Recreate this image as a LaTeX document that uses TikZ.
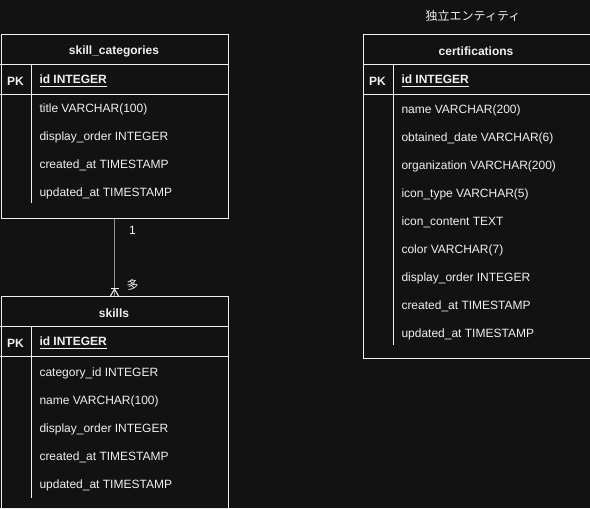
\documentclass[tikz,border=0pt]{standalone}
\usepackage{fontspec}
\setmainfont{Liberation Sans}
\newfontfamily\jpfont{Noto Sans CJK JP}
\begin{document}
\begin{tikzpicture}[x=0.75pt,y=-0.75pt,
  line width=0.75pt,
  tbl/.style={draw=fgc,rectangle,anchor=north west,inner sep=0pt},
  sep/.style={draw=fgc,line width=0.75pt},
  hdr/.style={text=fgc,font=\fontsize{9}{11}\selectfont\bfseries,inner sep=0pt,yshift=-1.1pt},
  row/.style={text=fgc,font=\fontsize{9}{11}\selectfont,anchor=west,inner sep=0pt,yshift=-1.1pt},
  pkrow/.style={text=fgc,font=\fontsize{9}{11}\selectfont\bfseries,anchor=west,inner sep=0pt,yshift=-1.1pt},
  pk/.style={text=fgc,font=\fontsize{9}{11}\selectfont\bfseries,inner sep=0pt,yshift=-1.1pt},
  conn/.style={draw=linec,line width=0.9pt},
  lbl/.style={text=fgc,font=\fontsize{9}{11}\selectfont,inner sep=0pt,yshift=-0.8pt}
]
\definecolor{bgc}{HTML}{121212}
\definecolor{fgc}{HTML}{F0F0F0}
\definecolor{linec}{HTML}{909090}
\useasboundingbox[fill=bgc] (0,0) rectangle (590,508);

% skill_categories
\node[tbl,minimum width=227*0.75pt,minimum height=183.5*0.75pt] (sc) at (0.5,34) {};
\draw[sep] (0.5,64.5) -- (227.5,64.5);
\draw[sep] (0.5,94.5) -- (227.5,94.5);
\draw[sep] (31,64.5) -- (31,203);
\node[hdr] (scT) at (114,49.5) {skill\_categories};
\node[pk] (scPK) at (15.5,79.5) {PK};
\node[pkrow] (scId) at (39,79.5) {\underline{id INTEGER}};
\node[row] (sc1) at (39,107.5) {title VARCHAR(100)};
\node[row] (sc2) at (39,135.5) {display\_order INTEGER};
\node[row] (sc3) at (39,163.5) {created\_at TIMESTAMP};
\node[row] (sc4) at (39,191.5) {updated\_at TIMESTAMP};

% skills
\node[tbl,minimum width=227*0.75pt,minimum height=211.5*0.75pt] (sk) at (0.5,296) {};
\draw[sep] (0.5,326.5) -- (227.5,326.5);
\draw[sep] (0.5,356.5) -- (227.5,356.5);
\draw[sep] (31,326.5) -- (31,498);
\node[hdr] (skT) at (114,311.5) {skills};
\node[pk] (skPK) at (15.5,341.5) {PK};
\node[pkrow] (skId) at (39,341.5) {\underline{id INTEGER}};
\node[row] (sk1) at (39,371.5) {category\_id INTEGER};
\node[row] (sk2) at (39,399.5) {name VARCHAR(100)};
\node[row] (sk3) at (39,427.5) {display\_order INTEGER};
\node[row] (sk4) at (39,455.5) {created\_at TIMESTAMP};
\node[row] (sk5) at (39,483.5) {updated\_at TIMESTAMP};

% certifications
\node[lbl,font=\fontsize{9}{11}\selectfont\jpfont] (indep) at (473,15) {独立エンティティ};
\node[tbl,minimum width=227*0.75pt,minimum height=324*0.75pt] (ce) at (362.5,34) {};
\draw[sep] (362.5,64.5) -- (589.5,64.5);
\draw[sep] (362.5,94.5) -- (589.5,94.5);
\draw[sep] (393,64.5) -- (393,345);
\node[hdr] (ceT) at (476,49.5) {certifications};
\node[pk] (cePK) at (377.5,79.5) {PK};
\node[pkrow] (ceId) at (401,79.5) {\underline{id INTEGER}};
\node[row] (ce1) at (401,108.5) {name VARCHAR(200)};
\node[row] (ce2) at (401,136.5) {obtained\_date VARCHAR(6)};
\node[row] (ce3) at (401,164.5) {organization VARCHAR(200)};
\node[row] (ce4) at (401,192.5) {icon\_type VARCHAR(5)};
\node[row] (ce5) at (401,220.5) {icon\_content TEXT};
\node[row] (ce6) at (401,248.5) {color VARCHAR(7)};
\node[row] (ce7) at (401,276.5) {display\_order INTEGER};
\node[row] (ce8) at (401,304.5) {created\_at TIMESTAMP};
\node[row] (ce9) at (401,332.5) {updated\_at TIMESTAMP};

% connector
\draw[conn] (sc.south) -- (sk.north);
\coordinate (cfA) at ([yshift=5.25pt]sk.north);
\draw[draw=fgc,line width=0.75pt] ([xshift=-3pt,yshift=6pt]sk.north) -- ([xshift=3pt,yshift=6pt]sk.north);
\draw[draw=fgc,line width=0.75pt] ([xshift=-3pt]sk.north) -- (cfA) -- ([xshift=3pt]sk.north);
\node[lbl] (one) at (132.5,229.5) {1};
\node[lbl,font=\fontsize{9}{11}\selectfont\jpfont] (many) at (132.5,284) {多};
\end{tikzpicture}
\end{document}
